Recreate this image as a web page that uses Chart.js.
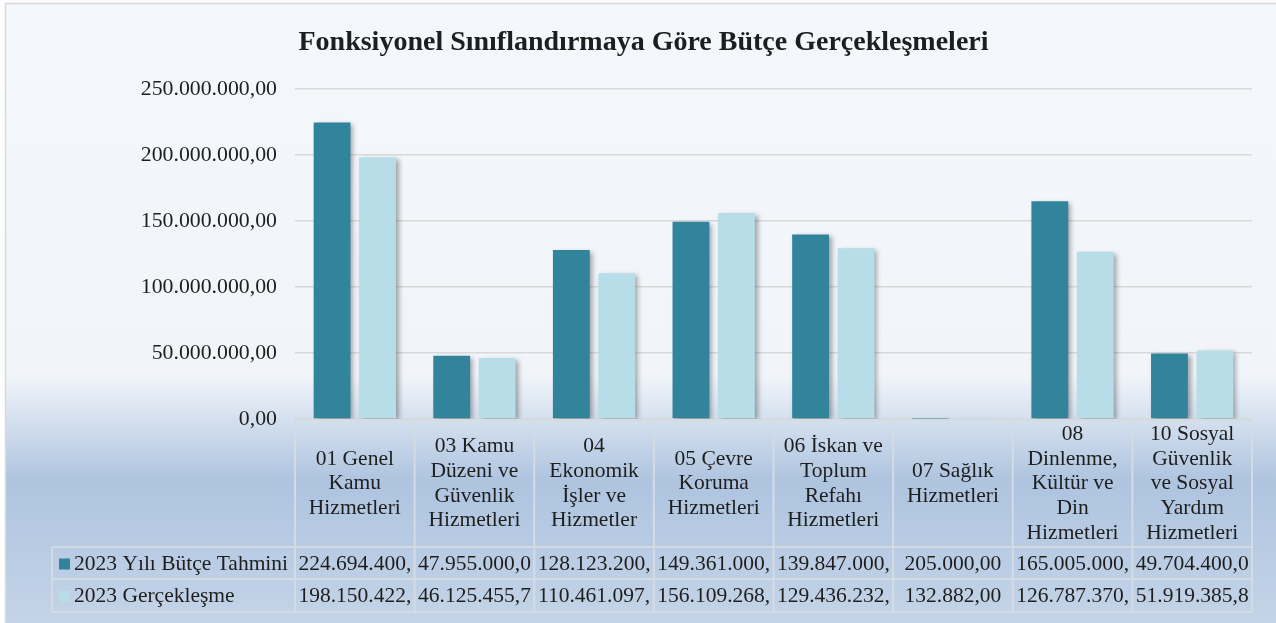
<!DOCTYPE html>
<html><head><meta charset="utf-8">
<script src="https://cdn.jsdelivr.net/npm/chart.js@4"></script>
<style>html,body{margin:0;padding:0;background:#fff}canvas{display:block}</style>
</head><body>
<canvas id="c" width="1276" height="623"></canvas>
<script>
const title = "Fonksiyonel Sınıflandırmaya Göre Bütçe Gerçekleşmeleri";
const categories = [
  ["01 Genel","Kamu","Hizmetleri"],
  ["03 Kamu","Düzeni ve","Güvenlik","Hizmetleri"],
  ["04","Ekonomik","İşler ve","Hizmetler"],
  ["05 Çevre","Koruma","Hizmetleri"],
  ["06 İskan ve","Toplum","Refahı","Hizmetleri"],
  ["07 Sağlık","Hizmetleri"],
  ["08","Dinlenme,","Kültür ve","Din","Hizmetleri"],
  ["10 Sosyal","Güvenlik","ve Sosyal","Yardım","Hizmetleri"]
];
const seriesNames = ["2023 Yılı Bütçe Tahmini", "2023 Gerçekleşme"];
const budget = [224694400, 47955000, 128123200, 149361000, 139847000, 205000, 165005000, 49704400];
const actual = [198150422, 46125455.7, 110461097, 156109268, 129436232, 132882, 126787370, 51919385.8];
const yMin = 0, yMax = 250000000, yStep = 50000000;
const colors = ["#31849b", "#b7dde8"];

function fmtTR(v) {
  const neg = v < 0; v = Math.abs(v);
  const s = v.toFixed(2);
  let [ip, dp] = s.split(".");
  ip = ip.replace(/\B(?=(\d{3})+(?!\d))/g, ".");
  return (neg ? "-" : "") + ip + "," + dp;
}

const SERIF = "'Liberation Serif', 'Times New Roman', serif";
const TXT = "#1e1e1e";
const LINE = "#d5dbe3";
const FS = 21.5;

const bgPlugin = {
  id: "bg",
  beforeDraw(chart) {
    const ctx = chart.ctx;
    ctx.save();
    ctx.fillStyle = "#ffffff";
    ctx.fillRect(0, 0, chart.width, chart.height);
    const g = ctx.createLinearGradient(0, 3, 0, 623);
    g.addColorStop(0, "#f4f7fb");
    g.addColorStop(0.6, "#f1f5fa");
    g.addColorStop(0.77, "#aec4df");
    g.addColorStop(1, "#c4d4e8");
    ctx.fillStyle = g;
    ctx.fillRect(5, 3, 1276, 623);
    ctx.strokeStyle = "#d9d9d9";
    ctx.lineWidth = 1.5;
    ctx.beginPath();
    ctx.moveTo(5.5, 623); ctx.lineTo(5.5, 3.5); ctx.lineTo(1276, 3.5);
    ctx.stroke();
    // title
    ctx.fillStyle = TXT;
    ctx.font = "bold 28px " + SERIF;
    ctx.textAlign = "center";
    ctx.textBaseline = "middle";
    ctx.fillText(title, 643.5, 43);
    ctx.restore();
  }
};

const shadowPlugin = {
  id: "shadow",
  beforeDatasetsDraw(chart) {
    const ctx = chart.ctx;
    ctx.save();
    ctx.shadowColor = "rgba(0,0,0,0.35)";
    ctx.shadowBlur = 5;
    ctx.shadowOffsetX = 3;
    ctx.shadowOffsetY = 2;
  },
  afterDatasetsDraw(chart) { chart.ctx.restore(); }
};

const tablePlugin = {
  id: "table",
  afterDraw(chart) {
    const ctx = chart.ctx;
    const a = chart.chartArea;
    const n = categories.length;
    const cw = (a.right - a.left) / n;
    const top = a.bottom + 1.5, hdrBot = 547, r1 = 579, r2 = 612, legL = 52;
    ctx.save();
    ctx.strokeStyle = LINE;
    ctx.lineWidth = 2;
    ctx.beginPath();
    ctx.moveTo(a.left, top); ctx.lineTo(a.right, top);
    [hdrBot, r1, r2].forEach(y => { ctx.moveTo(legL, y); ctx.lineTo(a.right, y); });
    for (let i = 0; i <= n; i++) {
      const x = a.left + i * cw;
      ctx.moveTo(x, top); ctx.lineTo(x, r2);
    }
    ctx.moveTo(legL, hdrBot); ctx.lineTo(legL, r2);
    ctx.stroke();

    ctx.fillStyle = TXT;
    ctx.textAlign = "center";
    ctx.textBaseline = "middle";
    // header labels
    ctx.font = FS + "px " + SERIF;
    const lh = 24.6;
    const hc = (top + hdrBot) / 2;
    categories.forEach((lines, i) => {
      const cx = chart.scales.x.getPixelForValue(i);
      const y0 = hc - (lines.length - 1) * lh / 2;
      lines.forEach((t, k) => ctx.fillText(t, cx, y0 + k * lh));
    });
    // values (truncated to the cell width, as in the spreadsheet data table)
    [budget, actual].forEach((arr, r) => {
      const cy = r === 0 ? (hdrBot + r1) / 2 + 1 : (r1 + r2) / 2 + 1;
      arr.forEach((v, i) => {
        const cx = chart.scales.x.getPixelForValue(i);
        let t = fmtTR(v);
        while (t.length > 1 && ctx.measureText(t).width > cw - 3) t = t.slice(0, -1);
        ctx.fillText(t, cx, cy);
      });
    });
    // legend column
    ctx.textAlign = "left";
    seriesNames.forEach((s, r) => {
      const cy = r === 0 ? (hdrBot + r1) / 2 + 1 : (r1 + r2) / 2 + 1;
      ctx.fillStyle = colors[r];
      ctx.fillRect(59, cy - 5.5, 11, 11);
      ctx.fillStyle = TXT;
      ctx.fillText(s, 74, cy);
    });
    ctx.restore();
  }
};

new Chart(document.getElementById("c"), {
  type: "bar",
  data: {
    labels: categories,
    datasets: [
      { label: seriesNames[0], data: budget, backgroundColor: colors[0], borderWidth: 0 },
      { label: seriesNames[1], data: actual, backgroundColor: colors[1], borderWidth: 0 }
    ]
  },
  options: {
    responsive: false,
    devicePixelRatio: 1,
    animation: false,
    datasets: { bar: { categoryPercentage: 0.76, barPercentage: 0.81 } },
    layout: { padding: { left: 5, right: 24, top: 89, bottom: 204 } },
    plugins: { legend: { display: false }, tooltip: { enabled: false }, title: { display: false } },
    scales: {
      x: { display: false },
      y: {
        min: yMin, max: yMax,
        afterFit(s) { s.width = 290; },
        ticks: {
          stepSize: yStep,
          padding: 18,
          color: TXT,
          font: { family: SERIF, size: 21.8 },
          callback: v => fmtTR(v)
        },
        grid: { color: "#d9d9d9", lineWidth: 1.5, drawTicks: false },
        border: { display: false }
      }
    }
  },
  plugins: [bgPlugin, shadowPlugin, tablePlugin]
});
</script>
</body></html>
